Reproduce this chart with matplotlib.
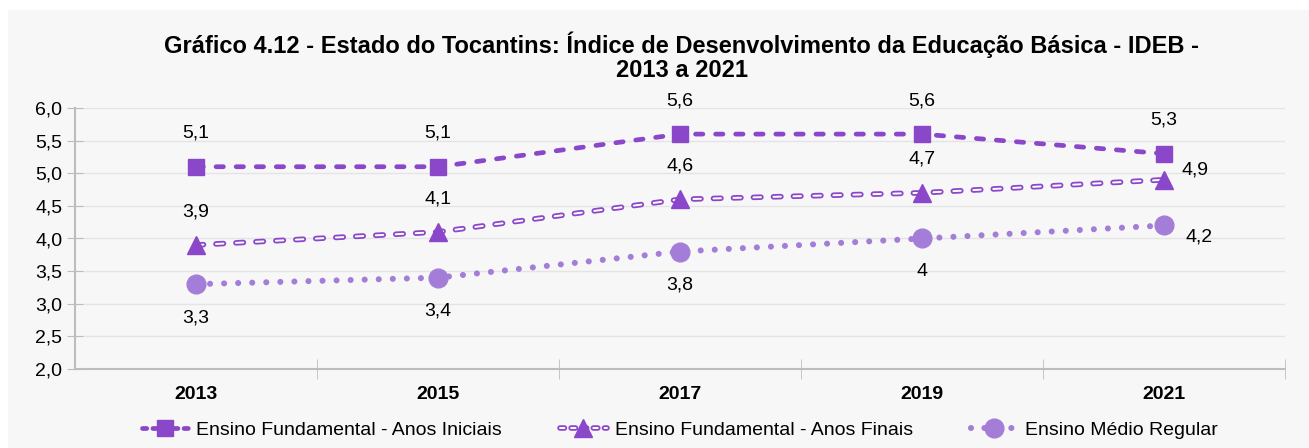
import matplotlib.pyplot as plt
from matplotlib.patches import Rectangle
from matplotlib.lines import Line2D
from matplotlib.legend_handler import HandlerTuple
from matplotlib.ticker import FixedLocator, FuncFormatter

plt.rcParams['font.family'] = ['Liberation Sans', 'DejaVu Sans']

anos = ['2013', '2015', '2017', '2019', '2021']
anos_iniciais = [5.1, 5.1, 5.6, 5.6, 5.3]
anos_finais = [3.9, 4.1, 4.6, 4.7, 4.9]
medio_regular = [3.3, 3.4, 3.8, 4.0, 4.2]
nomes = ['Ensino Fundamental - Anos Iniciais',
         'Ensino Fundamental - Anos Finais',
         'Ensino Médio Regular']

roxo = '#8b47c9'
lilas = '#a47dd8'
fundo = '#f7f7f7'

# estilos das linhas (tracejado em múltiplos da espessura)
LW1, D1 = 3.4, (1.55, 2.7)
LW2, LW2_IN, D2 = 4.0, 1.4, (1.35, 2.25)
LW3, D3 = 4.4, (0.001, 2.3)


def fmt(v):
    s = f'{v:.1f}'.replace('.', ',')
    return s[:-2] if s.endswith(',0') else s


def miolo(d):
    # reescala o tracejado da linha interna para coincidir com a externa
    return (d[0] * LW2 / LW2_IN, d[1] * LW2 / LW2_IN)


fig = plt.figure(figsize=(13.09, 4.48), dpi=100)
fig.patch.set_facecolor('white')
fig.add_artist(Rectangle((8 / 1309, 0), 1, 1 - 10 / 448, transform=fig.transFigure,
                         facecolor=fundo, edgecolor='none', zorder=-10))

ax = fig.add_axes([75 / 1309, 79 / 448, 1210 / 1309, 261 / 448])
ax.set_facecolor(fundo)
x = list(range(len(anos)))

# série 1: tracejado cheio com quadrados
ax.plot(x, anos_iniciais, color=roxo, lw=LW1, dashes=D1,
        dash_capstyle='round', marker='s', ms=11.5, mec=roxo, mfc=roxo, zorder=3)

# série 2: tracejado vazado (contorno roxo, miolo claro) com triângulos
ax.plot(x, anos_finais, color=roxo, lw=LW2, dashes=D2, dash_capstyle='round', zorder=3)
ax.plot(x, anos_finais, color='white', lw=LW2_IN, dashes=miolo(D2),
        dash_capstyle='round', zorder=3.1)
ax.plot(x, anos_finais, ls='none', marker='^', ms=12.5, mec=roxo, mfc=roxo, zorder=3.2)

# série 3: pontilhado com círculos
ax.plot(x, medio_regular, color=lilas, lw=LW3, dashes=D3,
        dash_capstyle='round', marker='o', ms=13.5, mec=lilas, mfc=lilas, zorder=3)

for i, v in enumerate(anos_iniciais):
    ax.annotate(fmt(v), (i, v), xytext=(0, 24), textcoords='offset points',
                ha='center', va='center', fontsize=14)
for i, v in enumerate(anos_finais):
    off = (22, 7) if i == len(anos) - 1 else (0, 24)
    ax.annotate(fmt(v), (i, v), xytext=off, textcoords='offset points',
                ha='center', va='center', fontsize=14)
for i, v in enumerate(medio_regular):
    off = (25, -8) if i == len(anos) - 1 else (0, -24)
    ax.annotate(fmt(v), (i, v), xytext=off, textcoords='offset points',
                ha='center', va='center', fontsize=14)

ax.set_xlim(-0.5, len(anos) - 0.5)
ax.set_ylim(2.0, 6.0)
ax.yaxis.set_major_locator(FixedLocator([2.0 + 0.5 * k for k in range(9)]))
ax.yaxis.set_major_formatter(FuncFormatter(lambda v, p: f'{v:.1f}'.replace('.', ',')))
ax.set_xticks(x)
ax.set_xticklabels(anos, fontweight='bold', fontsize=14)
ax.set_xticks([i + 0.5 for i in x], minor=True)
ax.tick_params(axis='x', which='major', length=0, pad=12)
ax.tick_params(axis='x', which='minor', direction='inout', length=14, color='#bdbdbd')
ax.tick_params(axis='y', direction='inout', length=12, color='#bdbdbd', labelsize=14, pad=3)
ax.grid(axis='y', color='#e4e4e4', lw=1)
ax.set_axisbelow(True)
for s in ['top', 'right']:
    ax.spines[s].set_visible(False)
for s in ['left', 'bottom']:
    ax.spines[s].set_color('#bdbdbd')
    ax.spines[s].set_linewidth(1.5)

fig.text(682 / 1309, 1 - 57 / 448,
         'Gráfico 4.12 - Estado do Tocantins: Índice de Desenvolvimento da Educação Básica - IDEB -\n2013 a 2021',
         ha='center', va='center', fontsize=17, fontweight='bold', linespacing=1.05)

handles = [
    Line2D([], [], color=roxo, lw=LW1, dashes=(0.9, 1.3), dash_capstyle='round',
           marker='s', ms=11.5, mfc=roxo, mec=roxo),
    (Line2D([], [], color=roxo, lw=LW2, dashes=(0.8, 1.2), dash_capstyle='round'),
     Line2D([], [], color='white', lw=LW2_IN, dashes=(0.8 * LW2 / LW2_IN, 1.2 * LW2 / LW2_IN),
            dash_capstyle='round'),
     Line2D([], [], ls='none', marker='^', ms=12.5, mfc=roxo, mec=roxo)),
    Line2D([], [], color=lilas, lw=LW3, dashes=(0.001, 2.2), dash_capstyle='round',
           marker='o', ms=13.5, mfc=lilas, mec=lilas),
]
fig.legend(handles, nomes, loc='center', bbox_to_anchor=(680 / 1309, 1 - 430 / 448),
           ncol=3, frameon=False, fontsize=14, handlelength=2.4, columnspacing=3.0,
           handletextpad=0.4, handler_map={tuple: HandlerTuple(ndivide=1)})

fig.savefig('out.png', dpi=100, facecolor='white')
